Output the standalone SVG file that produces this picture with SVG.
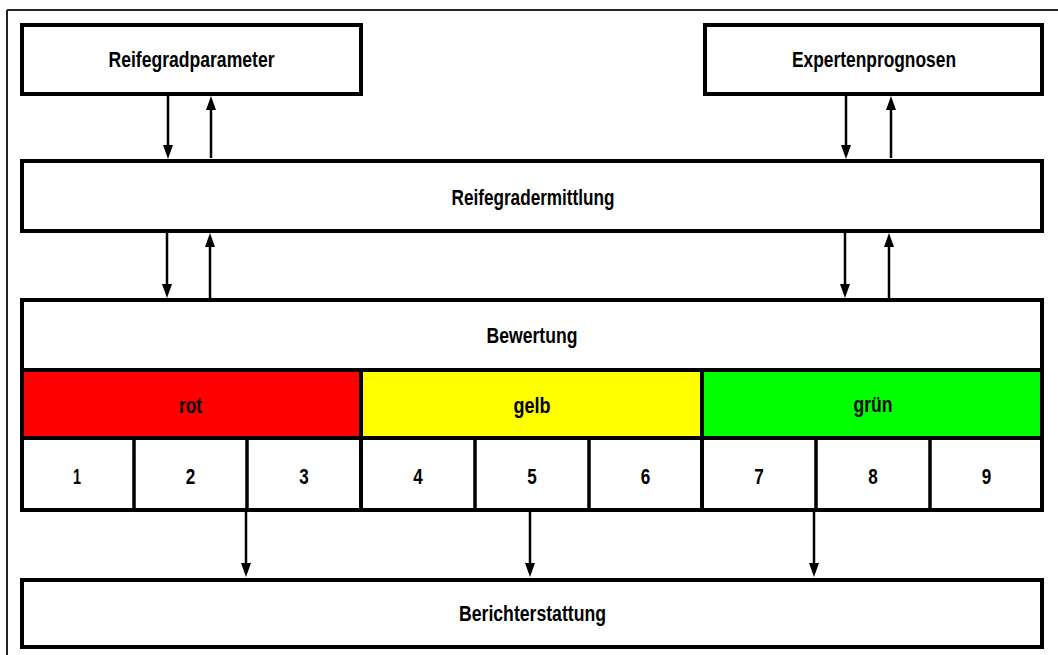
<svg xmlns="http://www.w3.org/2000/svg" width="1058" height="655" viewBox="0 0 1058 655">
  <style>
    .box { fill: #ffffff; stroke: #000000; stroke-width: 4; }
    .div { stroke: #000000; stroke-width: 4; fill: none; }
    .cell { stroke: #000000; stroke-width: 3.5; fill: none; }
    .lbl { font-family: "Liberation Sans", Arial, sans-serif; font-weight: bold; font-size: 22.5px; fill: #000000; text-anchor: middle; }
    .conn line { stroke: #000000; stroke-width: 2.5; marker-end: url(#head); }
  </style>
  <defs>
    <marker id="head" viewBox="0 -5 14 10" markerWidth="14" markerHeight="10" refX="1" refY="0" markerUnits="userSpaceOnUse" orient="auto">
      <path d="M0,-5 L14,0 L0,5 z" fill="#000000"/>
    </marker>
  </defs>

  <rect width="1058" height="655" fill="#ffffff"/>

  <!-- page frame -->
  <g id="frame" fill="none" stroke="#222222" stroke-width="2">
    <line x1="7" y1="10" x2="1058" y2="10"/>
    <line x1="7" y1="10" x2="7" y2="655"/>
  </g>

  <g id="reifegradparameter">
    <rect class="box" x="22" y="25" width="339" height="69"/>
    <text class="lbl" x="191.5" y="66.5" textLength="166" lengthAdjust="spacingAndGlyphs">Reifegradparameter</text>
  </g>

  <g id="expertenprognosen">
    <rect class="box" x="705" y="25" width="337" height="69"/>
    <text class="lbl" x="874" y="66.5" textLength="164" lengthAdjust="spacingAndGlyphs">Expertenprognosen</text>
  </g>

  <g id="reifegradermittlung">
    <rect class="box" x="22" y="161" width="1020" height="70"/>
    <text class="lbl" x="533" y="204.5" textLength="163" lengthAdjust="spacingAndGlyphs">Reifegradermittlung</text>
  </g>

  <g id="bewertung">
    <rect x="22" y="370" width="339" height="68" fill="#ff0000"/>
    <rect x="361" y="370" width="341" height="68" fill="#ffff00"/>
    <rect x="702" y="370" width="340" height="68" fill="#00ff00"/>
    <rect x="22" y="300" width="1020" height="210" fill="none" stroke="#000000" stroke-width="4"/>
    <line class="div" x1="22" y1="370" x2="1042" y2="370"/>
    <line class="div" x1="22" y1="438" x2="1042" y2="438"/>
    <line class="div" x1="361" y1="370" x2="361" y2="510"/>
    <line class="div" x1="702" y1="370" x2="702" y2="510"/>
    <line class="cell" x1="134" y1="438" x2="134" y2="510"/>
    <line class="cell" x1="247" y1="438" x2="247" y2="510"/>
    <line class="cell" x1="475" y1="438" x2="475" y2="510"/>
    <line class="cell" x1="589" y1="438" x2="589" y2="510"/>
    <line class="cell" x1="816" y1="438" x2="816" y2="510"/>
    <line class="cell" x1="930" y1="438" x2="930" y2="510"/>
    <text class="lbl" x="532" y="342.5" textLength="91" lengthAdjust="spacingAndGlyphs">Bewertung</text>
    <text class="lbl" x="190.5" y="412.5" textLength="23" lengthAdjust="spacingAndGlyphs">rot</text>
    <text class="lbl" x="532" y="412.5" textLength="37" lengthAdjust="spacingAndGlyphs">gelb</text>
    <text class="lbl" x="873" y="411.5" textLength="39" lengthAdjust="spacingAndGlyphs">grün</text>
    <text class="lbl" x="77" y="483.5" textLength="8" lengthAdjust="spacingAndGlyphs">1</text>
    <text class="lbl" x="190.5" y="483.5" textLength="9.5" lengthAdjust="spacingAndGlyphs">2</text>
    <text class="lbl" x="304" y="483.5" textLength="9.5" lengthAdjust="spacingAndGlyphs">3</text>
    <text class="lbl" x="418" y="483.5" textLength="9.5" lengthAdjust="spacingAndGlyphs">4</text>
    <text class="lbl" x="532" y="483.5" textLength="9.5" lengthAdjust="spacingAndGlyphs">5</text>
    <text class="lbl" x="645.5" y="483.5" textLength="9.5" lengthAdjust="spacingAndGlyphs">6</text>
    <text class="lbl" x="759" y="483.5" textLength="9.5" lengthAdjust="spacingAndGlyphs">7</text>
    <text class="lbl" x="873" y="483.5" textLength="9.5" lengthAdjust="spacingAndGlyphs">8</text>
    <text class="lbl" x="986.5" y="483.5" textLength="9.5" lengthAdjust="spacingAndGlyphs">9</text>
  </g>

  <g id="berichterstattung">
    <rect class="box" x="22" y="580" width="1020" height="67"/>
    <text class="lbl" x="532.5" y="620.5" textLength="147" lengthAdjust="spacingAndGlyphs">Berichterstattung</text>
  </g>

  <!-- connectors: line ends 13px short of the arrow tip -->
  <g id="connectors" class="conn">
    <line x1="168" y1="96" x2="168" y2="146"/>
    <line x1="211" y1="158" x2="211" y2="109"/>
    <line x1="846" y1="96" x2="846" y2="146"/>
    <line x1="891" y1="158" x2="891" y2="109"/>
    <line x1="167" y1="233" x2="167" y2="285"/>
    <line x1="210" y1="298" x2="210" y2="246"/>
    <line x1="845" y1="233" x2="845" y2="285"/>
    <line x1="889" y1="298" x2="889" y2="246"/>
    <line x1="246" y1="512" x2="246" y2="564"/>
    <line x1="530" y1="512" x2="530" y2="564"/>
    <line x1="814" y1="512" x2="814" y2="564"/>
  </g>
</svg>
